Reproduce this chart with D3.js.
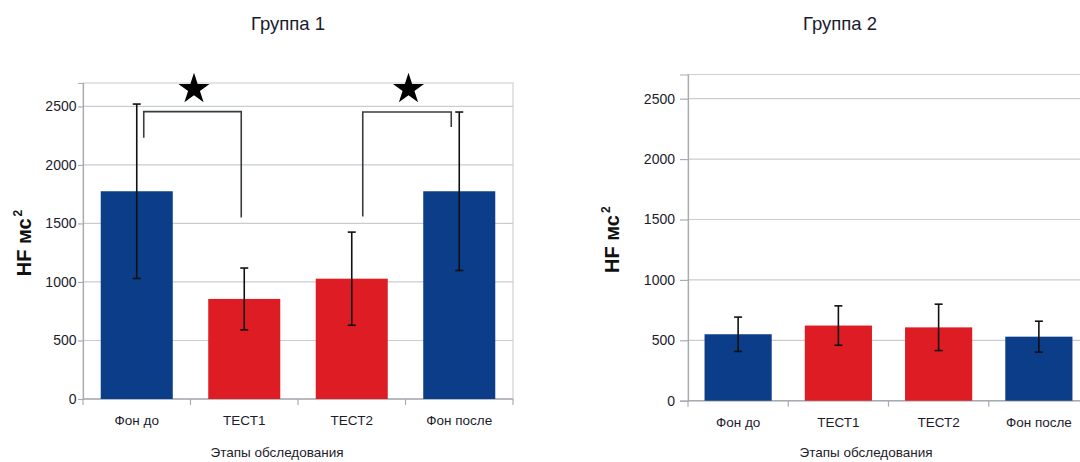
<!DOCTYPE html>
<html>
<head>
<meta charset="utf-8">
<script src="https://cdn.jsdelivr.net/npm/d3@7/dist/d3.min.js"></script>
<style>
  html, body { margin: 0; padding: 0; background: #fff; }
  svg { display: block; font-family: "Liberation Sans", Arial, sans-serif; }
</style>
</head>
<body>
<svg id="chart" width="1080" height="462"></svg>
<script>
// Stages of the examination
const categories = ["Фон до", "ТЕСТ1", "ТЕСТ2", "Фон после"];
const barKinds = ["background", "test", "test", "background"];

// Group 1: mean HF (ms²) and standard deviation
const group1Means = [1775, 855, 1028, 1775];
const group1Errors = [745, 264, 398, 677];

// Group 2: mean HF (ms²) and standard deviation
const group2Means = [550, 622, 607, 530];
const group2Errors = [142, 163, 192, 128];

const yTicks = [0, 500, 1000, 1500, 2000, 2500];
const yMax = 2700;

// Significance brackets for group 1: [from stage, to stage, bar level, left leg end, right leg end]
const group1Brackets = [
  ["Фон до", "ТЕСТ1", 2455, 2232, 1550],
  ["ТЕСТ2", "Фон после", 2452, 1560, 2325]
];
const bracketOffsets = [[7, -3], [11, -8]];

const colors = { background: "#0b3d88", test: "#de1c23" };

const svg = d3.select("#chart");

function drawPanel(opt) {
  const g = svg.append("g");
  const x = d3.scaleBand().domain(categories).range([opt.left, opt.right]).padding(0);
  const y = d3.scaleLinear().domain([0, yMax]).range([opt.bottom, opt.top]);
  const barW = x.bandwidth() * 0.67;
  const cx = c => x(c) + x.bandwidth() / 2;

  // plot frame
  g.append("rect")
    .attr("x", opt.left).attr("y", opt.top)
    .attr("width", opt.right - opt.left).attr("height", opt.bottom - opt.top)
    .attr("fill", "none").attr("stroke", "#cfd3d6").attr("stroke-width", 1.2);

  // horizontal gridlines
  g.selectAll(".grid").data(yTicks.filter(t => t > 0)).join("line")
    .attr("x1", opt.left).attr("x2", opt.right)
    .attr("y1", d => y(d)).attr("y2", d => y(d))
    .attr("stroke", "#c9cdd0").attr("stroke-width", 1.2);

  // y axis
  const yAxis = d3.axisLeft(y).tickValues(yTicks).tickSize(opt.tickLen).tickPadding(opt.tickPad)
    .tickFormat(d3.format("d"));
  const ya = g.append("g").attr("transform", `translate(${opt.left},0)`).call(yAxis);
  ya.select(".domain").attr("stroke", "#a8acb0").attr("stroke-width", 1.2);
  ya.selectAll(".tick line").attr("stroke", "#a8acb0").attr("stroke-width", 1.2);
  ya.selectAll(".tick text").attr("fill", "#1c1c2c").style("font-size", "14px")
    .style("font-family", "'Liberation Sans', Arial, sans-serif");

  // x axis with ticks at category boundaries
  g.append("line")
    .attr("x1", opt.left).attr("x2", opt.right)
    .attr("y1", y(0)).attr("y2", y(0))
    .attr("stroke", "#a8acb0").attr("stroke-width", 1.4);
  const bounds = categories.map(c => x(c)).concat([opt.right]);
  g.selectAll(".xtick").data(bounds).join("line")
    .attr("x1", d => d).attr("x2", d => d)
    .attr("y1", y(0)).attr("y2", y(0) + 6)
    .attr("stroke", "#a8acb0").attr("stroke-width", 1.2);
  g.selectAll(".xlabel").data(categories).join("text")
    .attr("x", d => cx(d)).attr("y", y(0) + 26)
    .attr("text-anchor", "middle").attr("fill", "#1c1c2c")
    .style("font-size", "13.5px").text(d => d);

  // bars
  g.selectAll(".bar").data(opt.means).join("rect")
    .attr("x", (d, i) => cx(categories[i]) - barW / 2)
    .attr("y", d => y(d))
    .attr("width", barW)
    .attr("height", d => y(0) - y(d))
    .attr("fill", (d, i) => colors[barKinds[i]]);

  // error bars
  const eb = g.selectAll(".err").data(opt.means).join("g");
  eb.append("line")
    .attr("x1", (d, i) => cx(categories[i])).attr("x2", (d, i) => cx(categories[i]))
    .attr("y1", (d, i) => y(d + opt.errors[i])).attr("y2", (d, i) => y(d - opt.errors[i]))
    .attr("stroke", "#111").attr("stroke-width", 1.6);
  [1, -1].forEach(s => {
    eb.append("line")
      .attr("x1", (d, i) => cx(categories[i]) - 4).attr("x2", (d, i) => cx(categories[i]) + 4)
      .attr("y1", (d, i) => y(d + s * opt.errors[i])).attr("y2", (d, i) => y(d + s * opt.errors[i]))
      .attr("stroke", "#111").attr("stroke-width", 1.6);
  });

  // significance brackets with stars
  (opt.brackets || []).forEach((b, k) => {
    const [from, to, level, legL, legR] = b;
    const x1 = cx(from) + bracketOffsets[k][0];
    const x2 = cx(to) + bracketOffsets[k][1];
    g.append("path")
      .attr("d", d3.line()([[x1, y(legL)], [x1, y(level)], [x2, y(level)], [x2, y(legR)]]))
      .attr("fill", "none").attr("stroke", "#3a3d40").attr("stroke-width", 1.6);
    g.append("path")
      .attr("d", d3.symbol(d3.symbolStar, 300)())
      .attr("transform", `translate(${(x1 + x2) / 2 + 1.5},${opt.top + 6})`)
      .attr("fill", "#000");
  });

  // titles
  svg.append("text")
    .attr("x", opt.titleX).attr("y", 30)
    .attr("text-anchor", "middle").attr("fill", "#1a1a2e")
    .style("font-size", "18.5px").text(opt.title);
  svg.append("text")
    .attr("transform", `translate(${opt.yTitleX},${(opt.top + opt.bottom) / 2 + 2}) rotate(-90)`)
    .attr("text-anchor", "middle").attr("fill", "#111")
    .style("font-size", "20px").style("font-weight", "bold")
    .html('HF мс<tspan dx="2" dy="-9" font-size="12">2</tspan>');
  svg.append("text")
    .attr("x", opt.xTitleX).attr("y", 457)
    .attr("text-anchor", "middle").attr("fill", "#1c1c2c")
    .style("font-size", "13.5px").text("Этапы обследования");
}

drawPanel({
  left: 83, right: 513, top: 83, bottom: 399, tickLen: 5, tickPad: 1.5,
  means: group1Means, errors: group1Errors, brackets: group1Brackets,
  title: "Группа 1", titleX: 288, yTitleX: 31, xTitleX: 277
});

drawPanel({
  left: 688, right: 1089, top: 74.5, bottom: 400.7, tickLen: 8, tickPad: 5,
  means: group2Means, errors: group2Errors, brackets: [],
  title: "Группа 2", titleX: 840, yTitleX: 619, xTitleX: 866
});
</script>
</body>
</html>
